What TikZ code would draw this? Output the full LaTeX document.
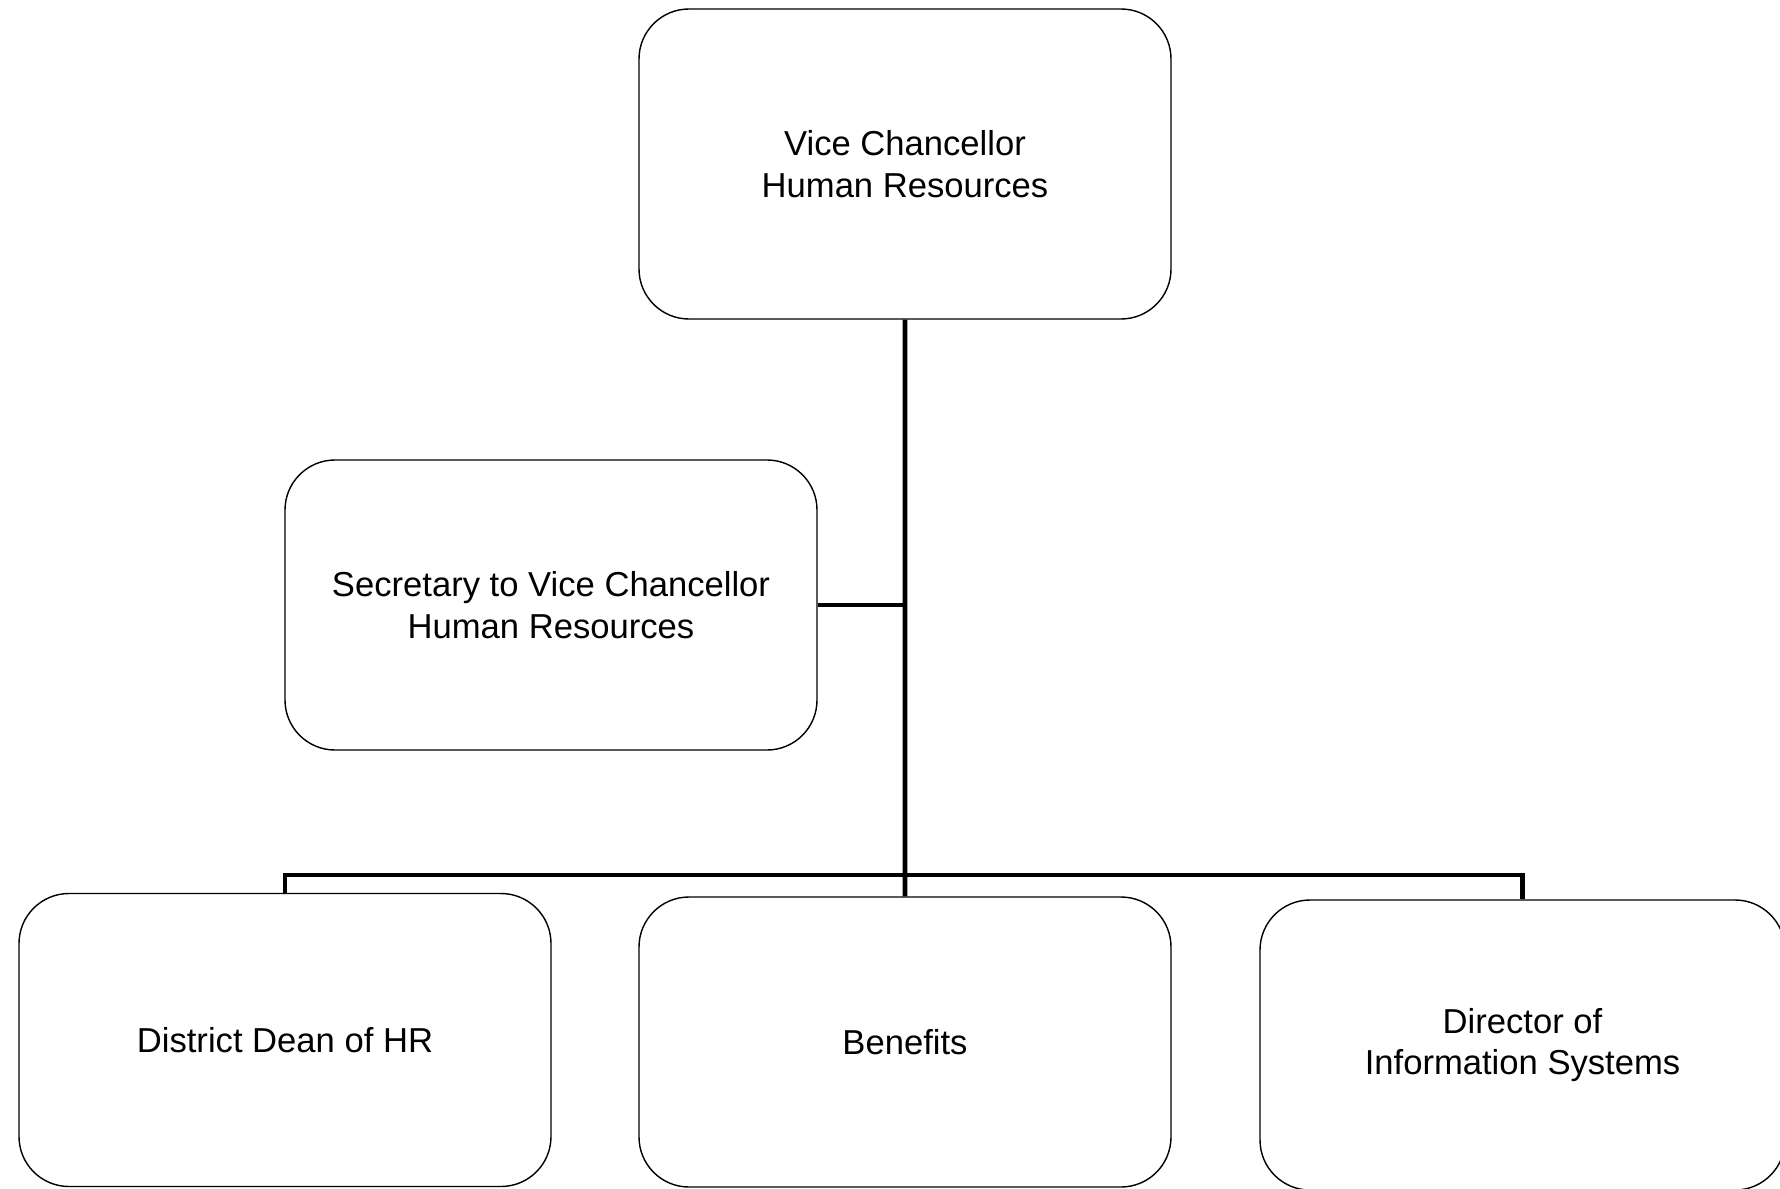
\documentclass[tikz,border=0pt]{standalone}
\usepackage{fontspec}
\setmainfont{Liberation Sans}
\usetikzlibrary{positioning}
\begin{document}
\begin{tikzpicture}[node distance=12.4cm, unit/.style={draw,rounded corners=1cm,minimum width=10.64cm,minimum height=5.8cm,align=center,line width=0.8pt,inner sep=2pt,font=\fontsize{19.7}{23.6}\selectfont}, link/.style={line width=2.8pt}]
      \useasboundingbox (0,0) rectangle (35.6,-23.76);
      % Top
      \node[unit,minimum height=6.2cm] (vc) at (18.1,-3.28) {Vice Chancellor\\Human Resources};
      \node[unit] (sec) at (11.02,-12.1) {Secretary to Vice Chancellor\\Human Resources};
      
      % Bottom row
      \node[unit,minimum height=5.86cm] (dean) at (5.7,-20.8) {District Dean of HR};
      \node[unit,right of=dean,yshift=-0.04cm] (ben) {Benefits};
      \node[unit,right of=ben,xshift=-0.05cm,yshift=-0.06cm,minimum width=10.5cm] (dir) {Director of\\Information Systems};
      
      % Edges
      \coordinate (bus) at (18.1,-17.5);
      \draw[link] (vc.south) -- (ben.north);
      \draw[link] (sec.east) -- (sec.east -| vc.south);
      \draw[link] (dean.north) |- (bus) -| (dir.north);
    \end{tikzpicture}
\end{document}
